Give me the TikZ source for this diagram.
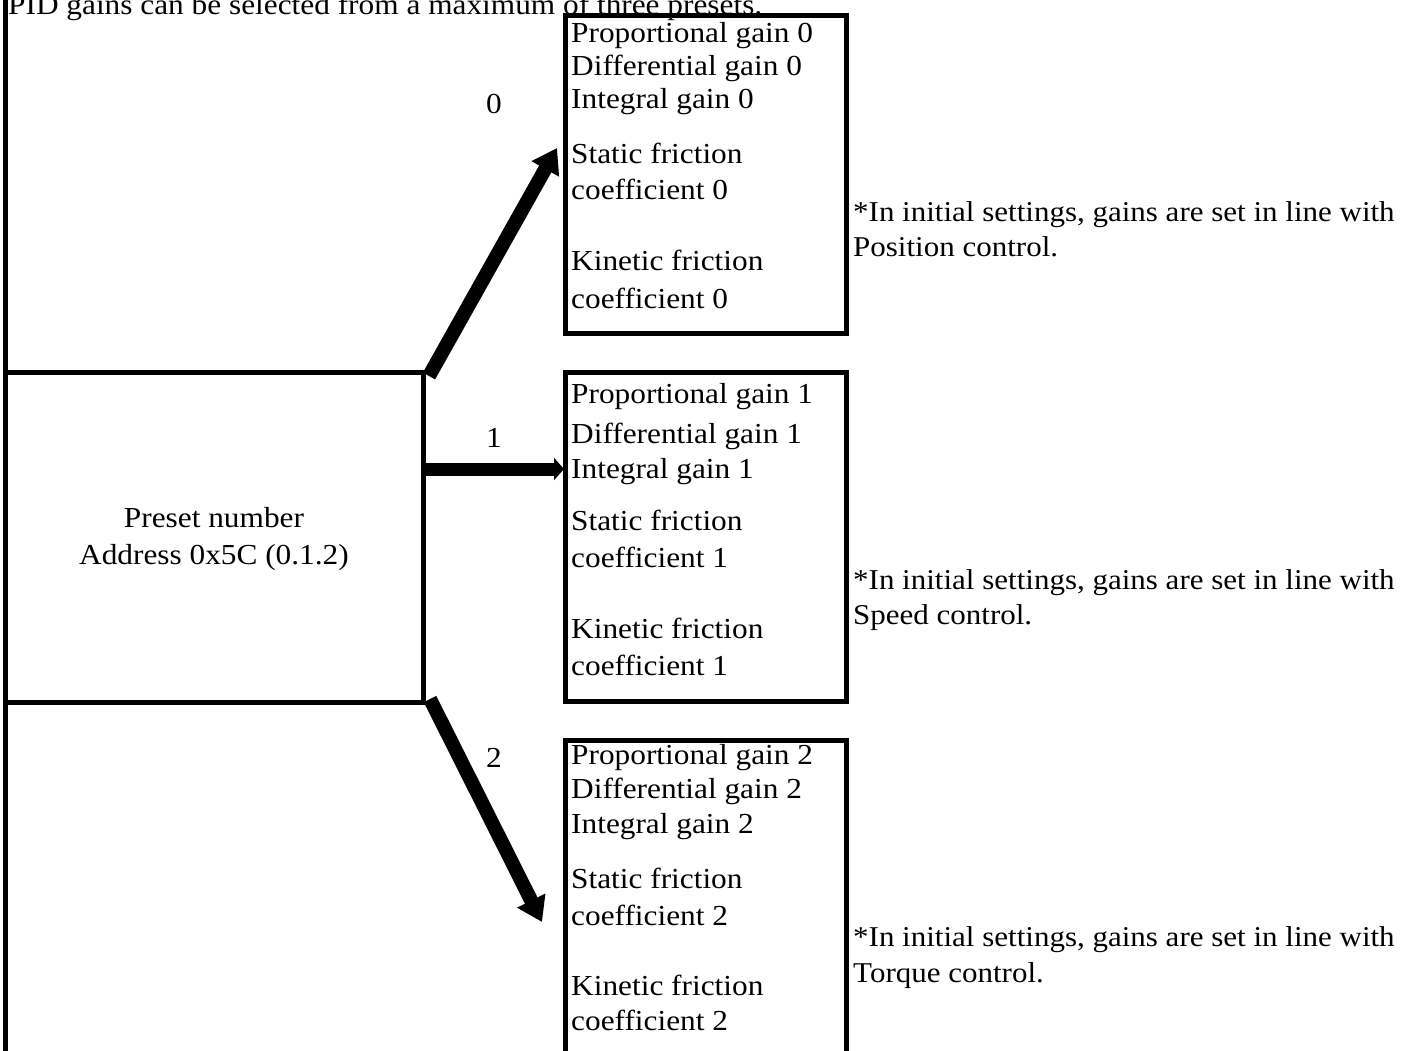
\documentclass[tikz,border=0pt]{standalone}
\usepackage{fontspec}
\setmainfont[FakeStretch=1.08]{Liberation Serif}
\usetikzlibrary{arrows.meta}

\tikzset{
  frame/.style={draw=black, line width=5pt, inner sep=0pt, outer sep=0pt},
  txt/.style={anchor=base west, inner sep=0pt, font=\fontsize{29}{33}\selectfont},
  ntxt/.style={txt, font=\fontsize{28.7}{33}\selectfont},
  ctxt/.style={anchor=base, inner sep=0pt, font=\fontsize{29}{33}\selectfont},
  bigarrow/.style={line width=14pt, -{Triangle[length=24pt, width=30pt]}},
  smallarrow/.style={line width=13pt, -{Triangle[length=10pt, width=22pt]}},
}

\begin{document}
\begin{tikzpicture}[x=1pt, y=-1pt]
  \useasboundingbox (0,0) rectangle (1411,1050);

  % heading line
  \node[txt] (title) at (8,14) {PID gains can be selected from a maximum of three presets.};

  % preset selector box and the long left rule
  \node[frame, minimum width=418pt, minimum height=330pt] (preset) at (214,537) {};
  \draw[line width=5pt] ([yshift=400pt]preset.north west) -- ([yshift=-400pt]preset.south west);
  \node[ctxt] (pn) at (214,527) {Preset number};
  \node[ctxt] (pa) at (214,564) {Address 0x5C (0.1.2)};

  % gain set boxes
  \node[frame, minimum width=281pt, minimum height=318pt] (box0) at (705.5,174) {};
  \node[frame, minimum width=281pt, minimum height=329pt] (box1) at (705.5,536.5) {};
  \node[frame, minimum width=281pt, minimum height=335pt] (box2) at (705.5,907.5) {};

  % preset 0
  \node[txt] (p0) at (571,42)  {Proportional gain 0};
  \node[txt] (d0) at (571,75)  {Differential gain 0};
  \node[txt] (i0) at (571,108) {Integral gain 0};
  \node[txt] (s0a) at (571,163) {Static friction};
  \node[txt] (s0b) at (571,199) {coefficient 0};
  \node[txt] (k0a) at (571,270) {Kinetic friction};
  \node[txt] (k0b) at (571,308) {coefficient 0};

  % preset 1
  \node[txt] (p1) at (571,403) {Proportional gain 1};
  \node[txt] (d1) at (571,443) {Differential gain 1};
  \node[txt] (i1) at (571,478) {Integral gain 1};
  \node[txt] (s1a) at (571,530) {Static friction};
  \node[txt] (s1b) at (571,567) {coefficient 1};
  \node[txt] (k1a) at (571,638) {Kinetic friction};
  \node[txt] (k1b) at (571,675) {coefficient 1};

  % preset 2
  \node[txt] (p2) at (571,764) {Proportional gain 2};
  \node[txt] (d2) at (571,798) {Differential gain 2};
  \node[txt] (i2) at (571,833) {Integral gain 2};
  \node[txt] (s2a) at (571,888) {Static friction};
  \node[txt] (s2b) at (571,925) {coefficient 2};
  \node[txt] (k2a) at (571,995) {Kinetic friction};
  \node[txt] (k2b) at (571,1030) {coefficient 2};

  % notes
  \node[ntxt] (n0a) at (853,221) {*In initial settings, gains are set in line with};
  \node[ntxt] (n0b) at (853,256) {Position control.};
  \node[ntxt] (n1a) at (853,589) {*In initial settings, gains are set in line with};
  \node[ntxt] (n1b) at (853,624) {Speed control.};
  \node[ntxt] (n2a) at (853,946) {*In initial settings, gains are set in line with};
  \node[ntxt] (n2b) at (853,982) {Torque control.};

  % selection arrows
  \draw[bigarrow] ([xshift=6pt,yshift=-4pt]preset.north east) -- ([xshift=-8pt,yshift=26pt]box0.west);
  \draw[smallarrow] ([yshift=68pt]preset.east) -- ([xshift=-1pt,yshift=67.5pt]box1.west);
  \draw[bigarrow] ([xshift=7pt,yshift=3pt]preset.south east) -- ([xshift=-23pt,yshift=-14.5pt]box2.west);

  % arrow labels
  \node[ctxt] (l0) at (494,113) {0};
  \node[ctxt] (l1) at (494,447) {1};
  \node[ctxt] (l2) at (494,767) {2};
\end{tikzpicture}
\end{document}
